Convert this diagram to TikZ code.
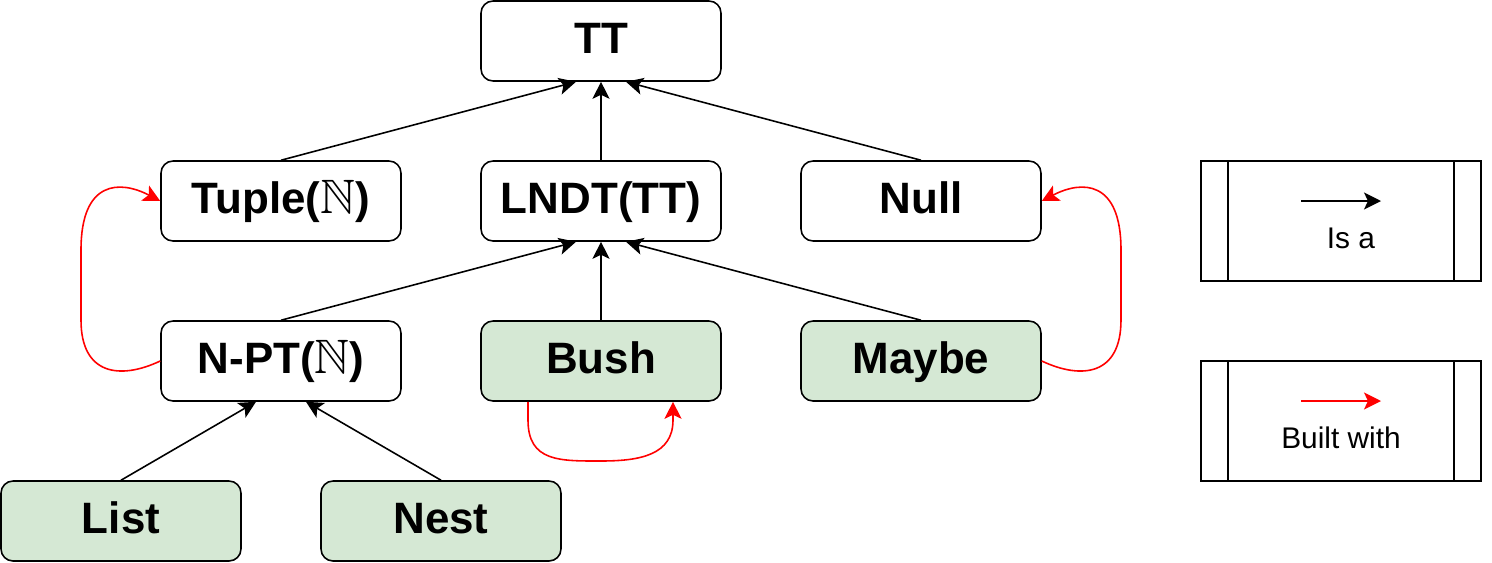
\documentclass[tikz,border=0pt]{standalone}
\usepackage{fontspec}
\usepackage{amssymb}
\setmainfont{Liberation Sans}
\usepackage{tikz}
\usetikzlibrary{arrows.meta,positioning}
\definecolor{basegreen}{HTML}{D5E8D4}
\definecolor{builtred}{HTML}{FF0000}

\begin{document}
\begin{tikzpicture}[
			x = 0.02cm, y = -0.02cm,
			every node/.style = {font=\fontsize{25}{30}\selectfont\bfseries},
			typebox/.style = {draw, rounded corners=0.24cm, line width=0.9pt,
				minimum width=4.8cm, minimum height=1.6cm, inner sep=0pt,
				text height=0.63cm, text depth=0.15cm},
			basebox/.style = {typebox, fill=basegreen},
			legbox/.style = {draw, line width=0.9pt, minimum width=5.6cm, minimum height=2.4cm},
			legtext/.style = {font=\fontsize{17}{20}\selectfont},
			isa/.style = {-{Stealth[length=0.34cm,width=0.34cm,inset=0.08cm]}, line width=0.9pt},
			built/.style = {isa, builtred},
		]

		\useasboundingbox (0,0) rectangle (1492,562);

		% types
		\node[typebox] (tt) at (601,41) {TT};
		\node[typebox] (tuple) at (281,201) {Tuple(\scalebox{1.1}{$\mathbb{N}$})};
		\node[typebox] (lndt) at (601,201) {LNDT(TT)};
		\node[typebox] (null) at (921,201) {Null};
		\node[typebox] (npt) at (281,361) {N-PT(\scalebox{1.1}{$\mathbb{N}$})};
		\node[basebox] (bush) at (601,361) {Bush};
		\node[basebox] (maybe) at (921,361) {Maybe};
		\node[basebox] (list) at (121,521) {List};
		\node[basebox] (nest) at (441,521) {Nest};

		% is a
		\draw[isa] (tuple.north) -- ([xshift=-0.5cm]tt.south);
		\draw[isa] (lndt.north) -- (tt.south);
		\draw[isa] (null.north) -- ([xshift=0.5cm]tt.south);
		\draw[isa] (npt.north) -- ([xshift=-0.5cm]lndt.south);
		\draw[isa] (bush.north) -- (lndt.south);
		\draw[isa] (maybe.north) -- ([xshift=0.5cm]lndt.south);
		\draw[isa] (list.north) -- ([xshift=-0.5cm]npt.south);
		\draw[isa] (nest.north) -- ([xshift=0.5cm]npt.south);

		% built with
		\draw[built] (npt.west) .. controls (120,380) and (81,375) .. (81,320)
			-- (81,250) .. controls (81,180) and (120,180) .. (tuple.west);
		\draw[built] (maybe.east) .. controls (1082,380) and (1121,375) .. (1121,320)
			-- (1121,250) .. controls (1121,180) and (1082,180) .. (null.east);
		\draw[built] ([xshift=-1.46cm]bush.south) -- (528,420) .. controls (528,462) and (560,461) .. (601,461)
			.. controls (640,461) and (673,455) .. (673,420) -- ([xshift=1.44cm]bush.south);

		% legend
		\node[legbox] (isabox) at (1341,221) {};
		\node[legbox] (builtbox) at (1341,421) {};
		\foreach \b in {isabox,builtbox}{
			\draw[line width=0.9pt] ([xshift=0.56cm]\b.north west) -- ([xshift=0.56cm]\b.south west);
			\draw[line width=0.9pt] ([xshift=-0.56cm]\b.north east) -- ([xshift=-0.56cm]\b.south east);
		}
		\coordinate (isafrom) at (1301,201);
		\coordinate (isato) at (1381,201);
		\draw[isa] (isafrom) -- (isato);
		\node[legtext] (isalabel) at (1351,238) {Is a};
		\coordinate (builtfrom) at (1301,401);
		\coordinate (builtto) at (1381,401);
		\draw[built] (builtfrom) -- (builtto);
		\node[legtext] (builtlabel) at (1341,438) {Built with};

		\end{tikzpicture}
\end{document}
